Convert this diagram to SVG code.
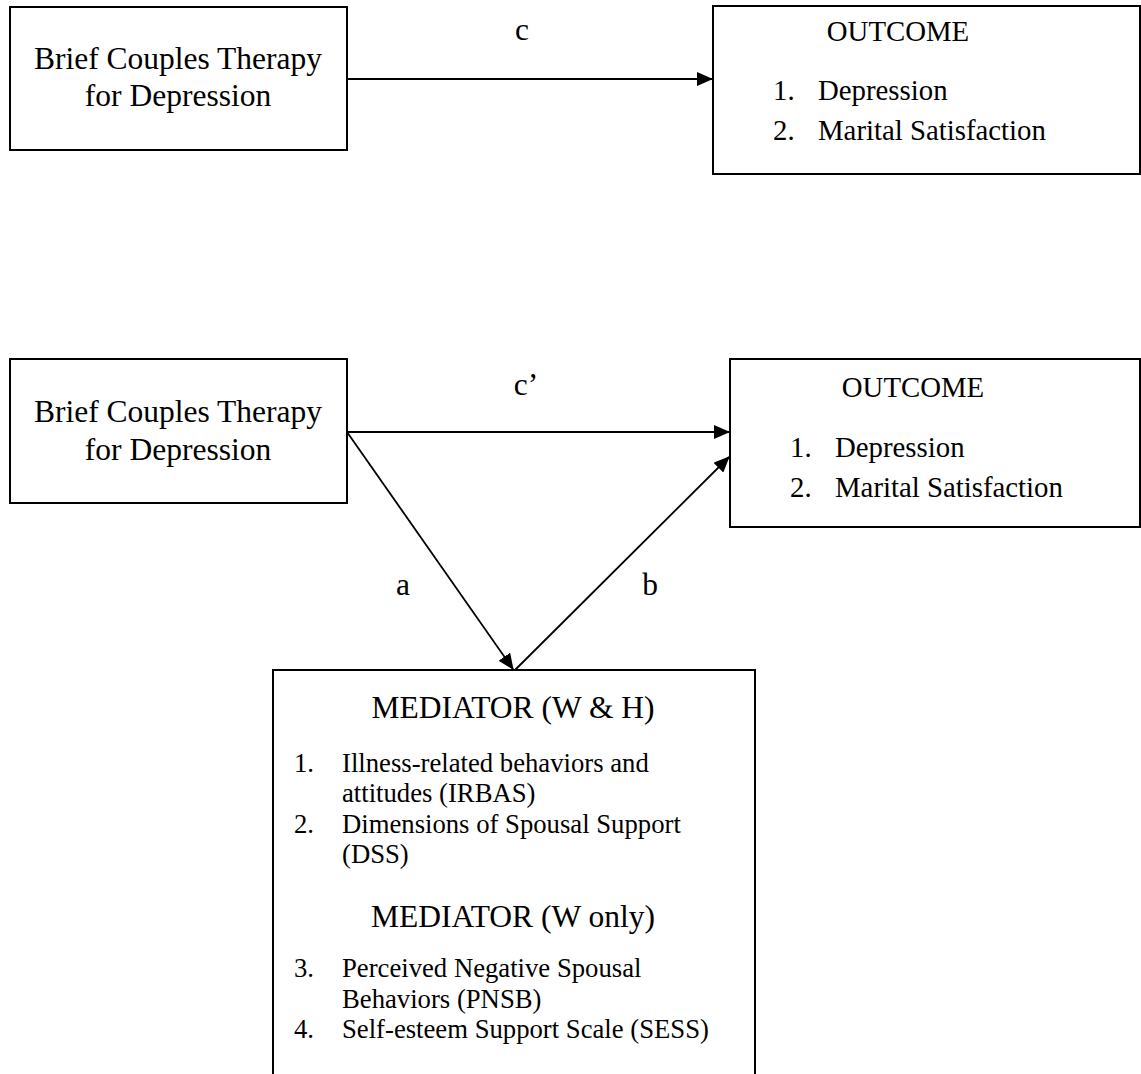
<svg xmlns="http://www.w3.org/2000/svg" width="1141" height="1074" viewBox="0 0 1141 1074">
<defs>
<marker id="ah" markerWidth="16" markerHeight="14" refX="15" refY="7" orient="auto" markerUnits="userSpaceOnUse">
<path d="M0,0 L16,7 L0,14 Z" fill="#000"/>
</marker>
<style>
.box{fill:#fff;stroke:#000;stroke-width:2}
.t{font-family:"Liberation Serif","Times New Roman",serif;fill:#000}
.big{font-size:31.5px}
.mid{font-size:28.8px}
.sm{font-size:26.7px}
.c{stroke:#000;stroke-width:1.8;fill:none;marker-end:url(#ah)}
</style>
</defs>
<rect width="1141" height="1074" fill="#fff"/>
<g id="connectors">
<line class="c" x1="347" y1="79" x2="712" y2="79"/>
<line class="c" x1="347" y1="432" x2="729" y2="432"/>
<line class="c" x1="347" y1="432" x2="513" y2="669"/>
<line class="c" x1="515" y1="670" x2="729" y2="457"/>
<text class="t big" x="522" y="40" text-anchor="middle">c</text>
<text class="t big" x="526" y="395" text-anchor="middle">c’</text>
<text class="t big" x="403" y="595" text-anchor="middle">a</text>
<text class="t big" x="650" y="595" text-anchor="middle">b</text>
</g>
<g id="therapy1">
<rect class="box" x="10" y="7" width="337" height="143"/>
<text class="t big" x="178" y="69" text-anchor="middle">Brief Couples Therapy</text>
<text class="t big" x="178" y="106" text-anchor="middle">for Depression</text>
</g>
<g id="outcome1">
<rect class="box" x="713" y="6" width="427" height="168"/>
<text class="t mid" x="898" y="41" text-anchor="middle">OUTCOME</text>
<text class="t mid" x="773" y="100">1.</text>
<text class="t mid" x="818" y="100">Depression</text>
<text class="t mid" x="773" y="140">2.</text>
<text class="t mid" x="818" y="140">Marital Satisfaction</text>
</g>
<g id="therapy2">
<rect class="box" x="10" y="359" width="337" height="144"/>
<text class="t big" x="178" y="422" text-anchor="middle">Brief Couples Therapy</text>
<text class="t big" x="178" y="460" text-anchor="middle">for Depression</text>
</g>
<g id="outcome2">
<rect class="box" x="730" y="359" width="410" height="168"/>
<text class="t mid" x="913" y="397" text-anchor="middle">OUTCOME</text>
<text class="t mid" x="790" y="457">1.</text>
<text class="t mid" x="835" y="457">Depression</text>
<text class="t mid" x="790" y="497">2.</text>
<text class="t mid" x="835" y="497">Marital Satisfaction</text>
</g>
<g id="mediator">
<path class="box" d="M273,1075 L273,670 L755,670 L755,1075"/>
<text class="t big" x="513" y="718" text-anchor="middle">MEDIATOR (W &amp; H)</text>
<text class="t sm" x="294" y="772">1.</text>
<text class="t sm" x="342" y="772">Illness-related behaviors and</text>
<text class="t sm" x="342" y="802">attitudes (IRBAS)</text>
<text class="t sm" x="294" y="833">2.</text>
<text class="t sm" x="342" y="833">Dimensions of Spousal Support</text>
<text class="t sm" x="342" y="863">(DSS)</text>
<text class="t big" x="513" y="927" text-anchor="middle">MEDIATOR (W only)</text>
<text class="t sm" x="294" y="977">3.</text>
<text class="t sm" x="342" y="977">Perceived Negative Spousal</text>
<text class="t sm" x="342" y="1008">Behaviors (PNSB)</text>
<text class="t sm" x="294" y="1038">4.</text>
<text class="t sm" x="342" y="1038">Self-esteem Support Scale (SESS)</text>
</g>
</svg>
